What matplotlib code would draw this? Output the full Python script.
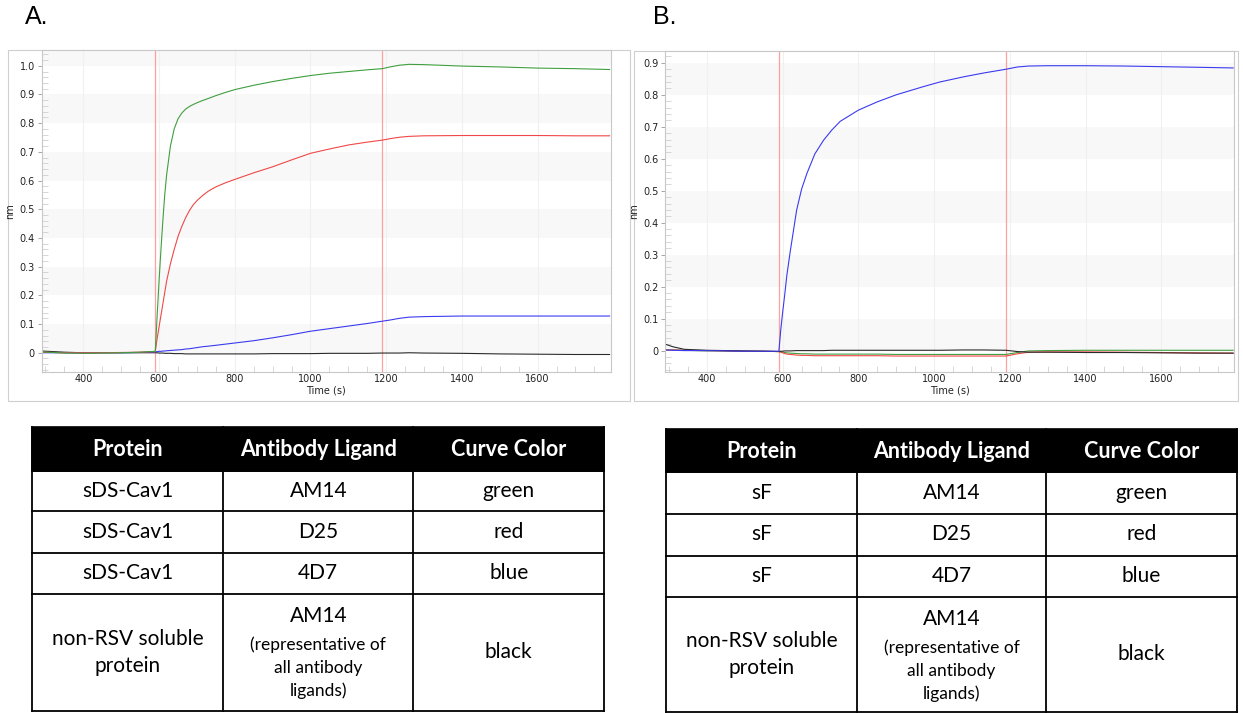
import matplotlib
matplotlib.use("Agg")
import matplotlib.pyplot as plt
from matplotlib.patches import Rectangle
from matplotlib.ticker import MultipleLocator, FuncFormatter

# ---- panel A: sDS-Cav1 sensorgram (time s, response nm)
a_time = [290, 350, 400, 450, 500, 550, 590, 595, 600, 605, 610, 615, 620,
          630, 640, 650, 660, 670, 680, 690, 700, 715, 730, 750, 775, 800,
          850, 900, 950, 1000, 1050, 1100, 1150, 1190, 1210, 1235, 1260,
          1300, 1400, 1500, 1600, 1700, 1790]
a_green = [0.003, -0.001, -0.002, -0.001, 0.0, 0.002, 0.005, 0.13, 0.25, 0.36, 0.46, 0.55, 0.62,
           0.72, 0.78, 0.815, 0.835, 0.849, 0.858, 0.865, 0.871, 0.879, 0.886, 0.896, 0.907, 0.917,
           0.932, 0.945, 0.956, 0.966, 0.974, 0.980, 0.986, 0.990, 0.996, 1.002, 1.005,
           1.004, 0.999, 0.996, 0.992, 0.990, 0.987]
a_red = [0.002, 0.0, 0.0, 0.0, 0.001, 0.002, 0.004, 0.05, 0.09, 0.13, 0.17, 0.21, 0.25,
         0.31, 0.36, 0.405, 0.44, 0.47, 0.495, 0.515, 0.53, 0.548, 0.563, 0.578, 0.592, 0.604,
         0.627, 0.648, 0.672, 0.695, 0.710, 0.724, 0.734, 0.741, 0.746, 0.751, 0.754,
         0.756, 0.757, 0.757, 0.757, 0.756, 0.756]
a_blue = [0.0, 0.0, -0.001, 0.0, 0.0, 0.001, 0.003, 0.004, 0.005, 0.005, 0.006, 0.006, 0.007,
          0.008, 0.009, 0.010, 0.011, 0.013, 0.014, 0.016, 0.018, 0.021, 0.023, 0.026, 0.030, 0.034,
          0.042, 0.052, 0.063, 0.075, 0.084, 0.093, 0.102, 0.110, 0.114, 0.120, 0.124,
          0.126, 0.128, 0.128, 0.128, 0.128, 0.128]
a_black = [0.006, 0.002, 0.0, 0.0, 0.0, 0.0, 0.0, 0.0, -0.001, -0.001, -0.001, -0.002, -0.002,
           -0.002, -0.003, -0.003, -0.003, -0.004, -0.004, -0.004, -0.004, -0.004, -0.004, -0.004,
           -0.004, -0.004,
           -0.004, -0.003, -0.003, -0.003, -0.002, -0.002, -0.002, -0.001, -0.001, -0.001, 0.0,
           -0.001, -0.002, -0.004, -0.005, -0.006, -0.006]

# ---- panel B: sF sensorgram
b_time = [290, 310, 340, 400, 450, 500, 550, 590, 595, 600, 605, 611, 620, 637, 650, 664,
          685, 708, 730, 752, 800, 850, 900, 970, 1015, 1077, 1130, 1190, 1220, 1250,
          1300, 1400, 1500, 1600, 1700, 1790]
b_blue = [0.002, 0.001, 0.0, 0.0, -0.001, -0.002, -0.002, -0.002, 0.065, 0.12, 0.17, 0.235,
          0.31, 0.44, 0.505, 0.554, 0.615, 0.658, 0.69, 0.717, 0.752, 0.778, 0.80, 0.825,
          0.840, 0.856, 0.868, 0.880, 0.887, 0.890, 0.891, 0.891, 0.890, 0.888, 0.886, 0.884]
b_green = [0.002, 0.002, 0.001, -0.001, -0.001, -0.002, -0.002, -0.003, -0.004, -0.005,
           -0.006, -0.007, -0.008, -0.009, -0.010, -0.010, -0.011, -0.011, -0.011, -0.011,
           -0.011, -0.011, -0.012, -0.012, -0.012, -0.012, -0.012, -0.012, -0.006, -0.001,
           0.0, 0.001, 0.001, 0.001, 0.001, 0.001]
b_red = [0.002, 0.002, 0.001, 0.0, -0.001, -0.002, -0.002, -0.003, -0.005, -0.007, -0.009,
         -0.011, -0.012, -0.014, -0.015, -0.015, -0.016, -0.016, -0.016, -0.016, -0.016,
         -0.016, -0.017, -0.017, -0.017, -0.017, -0.017, -0.017, -0.010, -0.005, -0.004,
         -0.004, -0.005, -0.006, -0.007, -0.008]
b_black = [0.020, 0.012, 0.004, 0.001, 0.0, -0.001, -0.002, -0.003, -0.002, -0.002, -0.001,
           -0.001, -0.001, 0.0, 0.0, 0.0, 0.0, 0.0, 0.001, 0.001, 0.001, 0.001, 0.001, 0.001,
           0.001, 0.002, 0.002, 0.001, -0.003, -0.005, -0.005, -0.006, -0.006, -0.007,
           -0.008, -0.008]

step_times = [590, 1190]

# ---- tables
headers = ["Protein", "Antibody Ligand", "Curve Color"]
a_proteins = ["sDS-Cav1", "sDS-Cav1", "sDS-Cav1", "non-RSV soluble\nprotein"]
b_proteins = ["sF", "sF", "sF", "non-RSV soluble\nprotein"]
ligands = ["AM14", "D25", "4D7", "AM14"]
ligand_note = "(representative of\nall antibody\nligands)"
curve_colors = ["green", "red", "blue", "black"]

W, H = 1243, 713
fig = plt.figure(figsize=(W / 100, H / 100), dpi=100)

# overlay in pixel coords for frames, tables and panel letters
bg = fig.add_axes([0, 0, 1, 1])
bg.set_xlim(0, W)
bg.set_ylim(H, 0)
bg.axis("off")

COLS = {"green": "#3f9f3f", "red": "#f04848", "blue": "#3a3af0", "black": "#2a2a2a"}


def sensorgram(rect_px, t, series, ymax):
    x0, y0, x1, y1 = rect_px
    ax = fig.add_axes([x0 / W, 1 - y1 / H, (x1 - x0) / W, (y1 - y0) / H])
    for lo in [0.0, 0.2, 0.4, 0.6, 0.8, 1.0]:
        ax.axhspan(lo, lo + 0.1, color="#f8f8f8", lw=0, zorder=0)
    for xv in range(400, 1800, 200):
        ax.axvline(xv, color="#f0f0f0", lw=0.8, zorder=0.5)
    for s in step_times:
        ax.axvline(s, color="#ffa0a0", lw=0.9, zorder=1)
    for name, vals in series:
        ax.plot(t, vals, color=COLS[name], lw=0.8, zorder=2)
    ax.set_xlim(290, 1793)
    ax.set_ylim(-0.066, ymax)
    ax.xaxis.set_major_locator(MultipleLocator(200))
    ax.xaxis.set_minor_locator(MultipleLocator(50))
    ax.yaxis.set_major_locator(MultipleLocator(0.1))
    ax.yaxis.set_minor_locator(MultipleLocator(0.02))
    ax.yaxis.set_major_formatter(FuncFormatter(lambda v, p: "0" if abs(v) < 1e-9 else f"{v:.1f}"))
    ax.tick_params(which="major", labelsize=7, labelcolor="#222222", color="#999999",
                   length=3, width=0.6, pad=2)
    ax.tick_params(which="minor", direction="in", color="#d0d0d0", length=4, width=0.6)
    ax.tick_params(axis="x", which="major", length=0)
    for sp in ax.spines.values():
        sp.set_color("#c8c8c8")
        sp.set_linewidth(0.8)
    ax.set_xlabel("Time (s)", fontsize=7, labelpad=1, color="#222222")
    ax.set_ylabel("nm", fontsize=7, labelpad=3, color="#222222")
    return ax


sensorgram((41.7, 50, 610.7, 371.7), a_time,
           [("black", a_black), ("blue", a_blue), ("red", a_red), ("green", a_green)], 1.055)
sensorgram((665.3, 51, 1234.3, 371.7), b_time,
           [("green", b_green), ("red", b_red), ("black", b_black), ("blue", b_blue)], 0.937)

# grey frames around each chart
for fx0, fy0, fx1, fy1 in [(8, 50, 630, 401), (634, 51, 1238, 401)]:
    bg.add_patch(Rectangle((fx0, fy0), fx1 - fx0, fy1 - fy0, fill=False,
                           edgecolor="#cfcfcf", lw=0.8, zorder=0))

bg.text(25, 17, "A.", fontsize=18, family="Liberation Sans", va="center", ha="left")
bg.text(653, 17, "B.", fontsize=18, family="Liberation Sans", va="center", ha="left")

TF = "Lato"


def table(xs, ys, proteins):
    # header row
    bg.add_patch(Rectangle((xs[0], ys[0]), xs[-1] - xs[0], ys[1] - ys[0],
                           facecolor="black", edgecolor="black", lw=1.2, zorder=3))
    for i, h in enumerate(headers):
        bg.text((xs[i] + xs[i + 1]) / 2, (ys[0] + ys[1]) / 2 + 1, h, color="white",
                fontsize=15.5, fontweight="bold", family=TF, ha="center", va="center", zorder=4)
    # grid lines
    for y in ys[1:]:
        bg.plot([xs[0], xs[-1]], [y, y], color="black", lw=1.3, zorder=4)
    for x in xs:
        bg.plot([x, x], [ys[0], ys[-1]], color="black", lw=1.3, zorder=4)
    for r in range(4):
        cy = (ys[r + 1] + ys[r + 2]) / 2
        cells = [proteins[r], ligands[r], curve_colors[r]]
        for c, txt in enumerate(cells):
            cx = (xs[c] + xs[c + 1]) / 2
            if r == 3 and c == 1:
                bg.text(cx, ys[r + 1] + 22, txt, fontsize=15, family=TF,
                        ha="center", va="center", zorder=4)
                bg.text(cx, ys[r + 1] + 74, ligand_note, fontsize=12.5, family=TF,
                        ha="center", va="center", linespacing=1.5, zorder=4)
            else:
                bg.text(cx, cy, txt, fontsize=15, family=TF, ha="center", va="center",
                        linespacing=1.45, zorder=4)


table([32.3, 223.3, 413.3, 604], [427.3, 470.7, 510.7, 552.7, 594, 710.7], a_proteins)
table([665.7, 857.3, 1045.7, 1236.7], [429, 472, 513.5, 555.5, 597, 712], b_proteins)

fig.savefig("out.png", dpi=100)
